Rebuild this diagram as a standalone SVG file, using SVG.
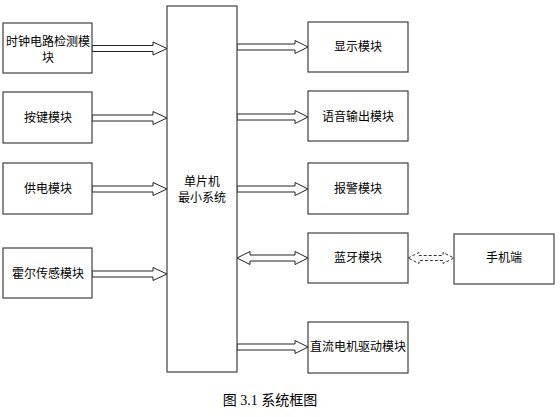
<svg xmlns="http://www.w3.org/2000/svg" width="560" height="417" viewBox="0 0 560 417">
<style>
.box{fill:#fff;stroke:#404040;stroke-width:1.2}
.t{font-family:"Noto Sans CJK SC","Liberation Sans",sans-serif;font-size:12px;fill:#000;text-anchor:middle}
.ar{fill:#fff;stroke:#222;stroke-width:1}
.da{fill:#fff;stroke:#333;stroke-width:1;stroke-dasharray:3,2}
.cap{font-family:"Liberation Serif","Noto Sans CJK SC",serif;font-size:14px;fill:#000;text-anchor:middle}
</style>
<rect width="560" height="417" fill="#fff"/>
<g id="connectors">
<polygon class="ar" points="92,45.5 153,45.5 153,42 167,48.5 153,55 153,51.5 92,51.5"/>
<polygon class="ar" points="92,115 153,115 153,111.5 167,118 153,124.5 153,121 92,121"/>
<polygon class="ar" points="92,186 153,186 153,182.5 167,189 153,195.5 153,192 92,192"/>
<polygon class="ar" points="92,271 153,271 153,267.5 167,274 153,280.5 153,277 92,277"/>
<polygon class="ar" points="237,44 295,44 295,40.5 308,47 295,53.5 295,50 237,50"/>
<polygon class="ar" points="237,114 295,114 295,110.5 308,117 295,123.5 295,120 237,120"/>
<polygon class="ar" points="237,186 295,186 295,182.5 308,189 295,195.5 295,192 237,192"/>
<polygon class="ar" points="237,258 250,251.5 250,255 295,255 295,251.5 308,258 295,264.5 295,261 250,261 250,264.5"/>
<polygon class="ar" points="237,344 295,344 295,340.5 308,347 295,353.5 295,350 237,350"/>
<polygon class="da" points="408,258 419,252.5 419,255.5 443,255.5 443,252.5 454,258 443,263.5 443,260.5 419,260.5 419,263.5"/>
</g>
<g id="mcu"><rect class="box" x="167" y="6" width="70" height="366"/><text class="t" x="202" y="186">单片机</text><text class="t" x="202" y="202">最小系统</text></g>
<g id="clock"><rect class="box" x="3" y="23" width="89" height="50"/><text class="t" x="48" y="46">时钟电路检测模</text><text class="t" x="48" y="62">块</text></g>
<g id="key"><rect class="box" x="3" y="92" width="89" height="51"/><text class="t" x="48" y="122">按键模块</text></g>
<g id="power"><rect class="box" x="3" y="163" width="89" height="51"/><text class="t" x="48" y="193">供电模块</text></g>
<g id="hall"><rect class="box" x="3" y="248" width="89" height="50"/><text class="t" x="48" y="278">霍尔传感模块</text></g>
<g id="display"><rect class="box" x="308" y="22" width="100" height="50"/><text class="t" x="358" y="51">显示模块</text></g>
<g id="voice"><rect class="box" x="308" y="91" width="100" height="50"/><text class="t" x="358" y="121">语音输出模块</text></g>
<g id="alarm"><rect class="box" x="308" y="163" width="100" height="51"/><text class="t" x="358" y="193">报警模块</text></g>
<g id="bt"><rect class="box" x="308" y="233" width="100" height="50"/><text class="t" x="358" y="262">蓝牙模块</text></g>
<g id="phone"><rect class="box" x="454" y="234" width="100" height="50"/><text class="t" x="504" y="262">手机端</text></g>
<g id="motor"><rect class="box" x="308" y="322" width="100" height="51"/><text class="t" x="358" y="351">直流电机驱动模块</text></g>
<text class="cap" x="270" y="405">图 3.1  系统框图</text>
</svg>
